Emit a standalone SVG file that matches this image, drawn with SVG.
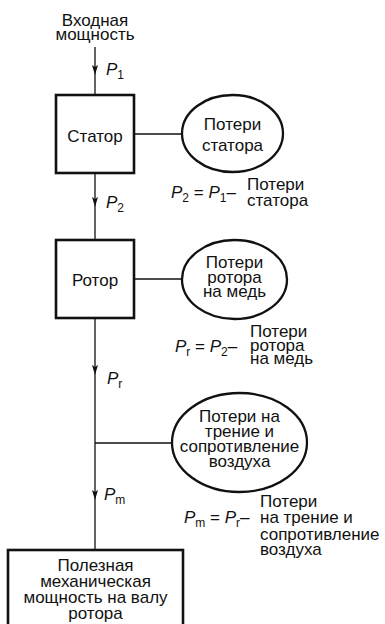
<svg xmlns="http://www.w3.org/2000/svg" width="385" height="624" viewBox="0 0 385 624">
<style>
text{font-family:"Liberation Sans",Arial,sans-serif;font-size:17px;fill:#111}
.c{text-anchor:middle}
.box{fill:#fff;stroke:#111;stroke-width:2.6}
.ell{fill:#fff;stroke:#111;stroke-width:2.3}
.ln{fill:none;stroke:#111;stroke-width:1.3}
.i{font-style:italic}
.s{font-size:12px}
</style>
<defs>
<marker id="ah" viewBox="0 0 10 6" refX="10" refY="3" markerWidth="10" markerHeight="6" markerUnits="userSpaceOnUse" orient="auto">
<path d="M0,0 L10,3 L0,6 L2,3 z" fill="#111"/>
</marker>
</defs>
<g id="connectors">
<path class="ln" d="M95,47 L95,75" marker-end="url(#ah)"/>
<path class="ln" d="M95,75 L95,95"/>
<path class="ln" d="M95,173 L95,207" marker-end="url(#ah)"/>
<path class="ln" d="M95,207 L95,240"/>
<path class="ln" d="M95,318 L95,375" marker-end="url(#ah)"/>
<path class="ln" d="M95,375 L95,500" marker-end="url(#ah)"/>
<path class="ln" d="M95,500 L95,550"/>
<path class="ln" d="M134,134 L182,134"/>
<path class="ln" d="M134,279 L182,279"/>
<path class="ln" d="M95,443 L172,443"/>
<text x="106" y="75"><tspan class="i">P</tspan><tspan class="s" dy="4">1</tspan></text>
<text x="106" y="208"><tspan class="i">P</tspan><tspan class="s" dy="4">2</tspan></text>
<text x="107" y="384"><tspan class="i">P</tspan><tspan class="s" dy="4">r</tspan></text>
<text x="104" y="500"><tspan class="i">P</tspan><tspan class="s" dy="4">m</tspan></text>
</g>
<g id="input">
<text class="c" x="95" y="26">Входная</text>
<text class="c" x="95" y="40">мощность</text>
</g>
<g id="stator">
<rect class="box" x="56" y="95" width="78" height="78"/>
<text class="c" x="95" y="141.5">Статор</text>
</g>
<g id="stator-losses">
<ellipse class="ell" cx="232.5" cy="133.5" rx="50.5" ry="38.5"/>
<text class="c" x="232.5" y="130">Потери</text>
<text class="c" x="232.5" y="151">статора</text>
</g>
<g id="formula-p2">
<text x="171" y="198"><tspan class="i">P</tspan><tspan class="s" dy="4">2</tspan><tspan dy="-4"> = </tspan><tspan class="i">P</tspan><tspan class="s" dy="4">1</tspan><tspan dy="-4">–</tspan></text>
<text x="247" y="190">Потери</text>
<text x="247" y="206">статора</text>
</g>
<g id="rotor">
<rect class="box" x="56" y="240" width="78" height="78"/>
<text class="c" x="95" y="286">Ротор</text>
</g>
<g id="rotor-losses">
<ellipse class="ell" cx="234.5" cy="279.5" rx="52.5" ry="39.5"/>
<text class="c" x="234.5" y="268">Потери</text>
<text class="c" x="234.5" y="283">ротора</text>
<text class="c" x="234.5" y="297">на медь</text>
</g>
<g id="formula-pr">
<text x="175" y="352"><tspan class="i">P</tspan><tspan class="s" dy="4">r</tspan><tspan dy="-4"> = </tspan><tspan class="i">P</tspan><tspan class="s" dy="4">2</tspan><tspan dy="-4">–</tspan></text>
<text x="250" y="337">Потери</text>
<text x="250" y="351">ротора</text>
<text x="250" y="364">на медь</text>
</g>
<g id="friction-losses">
<ellipse class="ell" cx="239.5" cy="442.5" rx="67.5" ry="49.5"/>
<text class="c" x="239.5" y="422">Потери на</text>
<text class="c" x="239.5" y="437">трение и</text>
<text class="c" x="239.5" y="452">сопротивление</text>
<text class="c" x="239.5" y="467">воздуха</text>
</g>
<g id="formula-pm">
<text x="184" y="523"><tspan class="i">P</tspan><tspan class="s" dy="4">m</tspan><tspan dy="-4"> = </tspan><tspan class="i">P</tspan><tspan class="s" dy="4">r</tspan><tspan dy="-4">–</tspan></text>
<text x="260" y="507">Потери</text>
<text x="260" y="523">на трение и</text>
<text x="260" y="540">сопротивление</text>
<text x="260" y="555">воздуха</text>
</g>
<g id="output">
<rect class="box" x="8" y="550" width="175" height="84"/>
<text class="c" x="95.5" y="571">Полезная</text>
<text class="c" x="95.5" y="587">механическая</text>
<text class="c" x="95.5" y="603">мощность на валу</text>
<text class="c" x="95.5" y="619">ротора</text>
</g>
</svg>
